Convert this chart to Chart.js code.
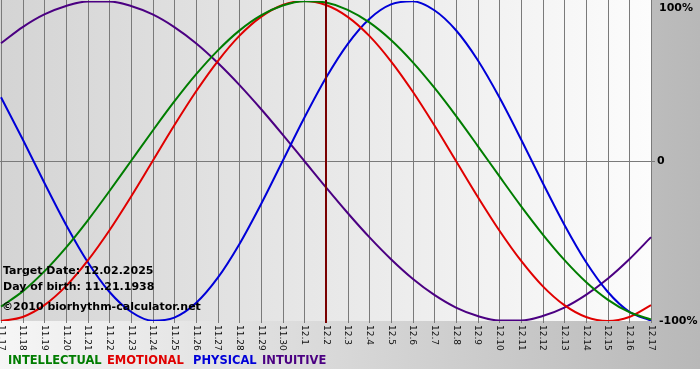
<!DOCTYPE html>
<html>
<head>
<meta charset="utf-8">
<script src="https://cdn.jsdelivr.net/npm/chart.js@4/dist/chart.umd.min.js"></script>
<style>
html,body{margin:0;padding:0;background:#fff;}
#wrap{width:700px;height:380px;position:relative;}
</style>
</head>
<body>
<div id="wrap"><canvas id="c" width="700" height="380"></canvas></div>
<script>
const labels = ['11.17','11.18','11.19','11.20','11.21','11.22','11.23','11.24','11.25','11.26','11.27','11.28','11.29','11.30',
  '12.1','12.2','12.3','12.4','12.5','12.6','12.7','12.8','12.9','12.10','12.11','12.12','12.13','12.14','12.15','12.16','12.17'];
const intellectual = [-0.910,-0.815,-0.690,-0.541,-0.372,-0.189,0.000,0.189,0.372,0.541,0.690,0.815,0.910,0.972,0.999,0.990,0.945,0.866,0.756,0.618,0.458,0.282,0.095,-0.095,-0.282,-0.458,-0.618,-0.756,-0.866,-0.945,-0.990];
const emotional = [-1.000,-0.975,-0.901,-0.782,-0.623,-0.434,-0.223,0.000,0.223,0.434,0.623,0.782,0.901,0.975,1.000,0.975,0.901,0.782,0.623,0.434,0.223,0.000,-0.223,-0.434,-0.623,-0.782,-0.901,-0.975,-1.000,-0.975,-0.901];
const physical = [0.398,0.136,-0.136,-0.398,-0.631,-0.817,-0.942,-0.998,-0.979,-0.888,-0.731,-0.520,-0.270,0.000,0.270,0.520,0.731,0.888,0.979,0.998,0.942,0.817,0.631,0.398,0.136,-0.136,-0.398,-0.631,-0.817,-0.942,-0.998];
const intuitive = [0.736,0.837,0.916,0.969,0.997,0.997,0.969,0.916,0.837,0.736,0.614,0.476,0.325,0.165,0.000,-0.165,-0.325,-0.476,-0.614,-0.736,-0.837,-0.916,-0.969,-0.997,-0.997,-0.969,-0.916,-0.837,-0.736,-0.614,-0.476];
const seriesNames = ['INTELLECTUAL','EMOTIONAL','PHYSICAL','INTUITIVE'];
const seriesColors = ['#007d00','#e00000','#0000d8','#4b0082'];
const yTickValues = [1, 0, -1];
const yTickLabels = ['100%', '0', '-100%'];
const targetLabel = '12.2';
const infoLines = ['Target Date: 12.02.2025', 'Day of birth: 11.21.1938', '\u00A92010 biorhythm-calculator.net'];

const legendX = [8, 107, 193, 262];

const drawPlugin = {
  id: 'bioDraw',
  beforeDraw(chart) {
    const ctx = chart.ctx;
    const a = chart.chartArea;
    const xs = chart.scales.x, ys = chart.scales.y;
    ctx.save();
    ctx.fillStyle = '#ffffff';
    ctx.fillRect(0, 0, 700, 380);
    let g = ctx.createLinearGradient(0, 0, 700, 0);
    g.addColorStop(0, '#f6f6f6');
    g.addColorStop(1, '#b8b8b8');
    ctx.fillStyle = g;
    ctx.fillRect(0, 0, 700, 369);
    g = ctx.createLinearGradient(a.left, 0, a.right, 0);
    g.addColorStop(0, '#d4d4d4');
    g.addColorStop(1, '#fcfcfc');
    ctx.fillStyle = g;
    ctx.fillRect(0, 0, a.right, a.bottom);
    ctx.strokeStyle = '#7a7a7a';
    ctx.lineWidth = 1;
    labels.forEach((l, i) => {
      const x = Math.round(xs.getPixelForValue(i)) + 0.5;
      ctx.beginPath();
      ctx.moveTo(x, 0);
      ctx.lineTo(x, a.bottom + 2);
      ctx.stroke();
    });
    const y0 = Math.round(ys.getPixelForValue(0)) + 0.5;
    ctx.beginPath();
    ctx.moveTo(0, y0);
    ctx.lineTo(a.right + 4, y0);
    ctx.stroke();
    ctx.restore();
  },
  afterDatasetsDraw(chart) {
    const ctx = chart.ctx;
    const a = chart.chartArea;
    const xs = chart.scales.x, ys = chart.scales.y;
    ctx.save();
    const tx = xs.getPixelForValue(labels.indexOf(targetLabel));
    ctx.strokeStyle = '#7a0000';
    ctx.lineWidth = 2;
    ctx.beginPath();
    ctx.moveTo(tx, 0);
    ctx.lineTo(tx, a.bottom + 2);
    ctx.stroke();
    ctx.fillStyle = '#000';
    ctx.font = 'bold 11px "DejaVu Sans"';
    ctx.textAlign = 'left';
    ctx.textBaseline = 'middle';
    ctx.fillText(infoLines[0], 3, 271);
    ctx.fillText(infoLines[1], 3, 287);
    ctx.fillText(infoLines[2], 2, 307);
    ctx.font = '9px "DejaVu Sans"';
    ctx.fillStyle = '#111';
    labels.forEach((l, i) => {
      const x = xs.getPixelForValue(i);
      ctx.save();
      ctx.translate(x, a.bottom + 4);
      ctx.rotate(Math.PI / 2);
      ctx.textAlign = 'left';
      ctx.textBaseline = 'middle';
      ctx.fillText(l, 0, 0);
      ctx.restore();
    });
    ctx.font = 'bold 11px "DejaVu Sans"';
    ctx.fillStyle = '#000';
    yTickValues.forEach((v, i) => {
      let y = ys.getPixelForValue(v);
      if (v === 1) y += 7;
      ctx.fillText(yTickLabels[i], v === 0 ? 657 : 659, y);
    });
    ctx.font = 'bold 11.5px "DejaVu Sans"';
    seriesNames.forEach((n, i) => {
      ctx.fillStyle = seriesColors[i];
      ctx.fillText(n, legendX[i], 361);
    });
    ctx.restore();
  }
};

new Chart(document.getElementById('c'), {
  type: 'line',
  data: {
    labels: labels,
    datasets: [
      { label: seriesNames[0], data: intellectual, borderColor: seriesColors[0] },
      { label: seriesNames[1], data: emotional, borderColor: seriesColors[1] },
      { label: seriesNames[2], data: physical, borderColor: seriesColors[2] },
      { label: seriesNames[3], data: intuitive, borderColor: seriesColors[3] }
    ]
  },
  options: {
    responsive: false,
    animation: false,
    devicePixelRatio: 1,
    layout: { padding: { left: 1, top: 1, right: 49, bottom: 59 } },
    elements: {
      point: { radius: 0, hoverRadius: 0 },
      line: { borderWidth: 2, cubicInterpolationMode: 'monotone', fill: false }
    },
    plugins: { legend: { display: false }, tooltip: { enabled: false } },
    scales: {
      x: { display: false },
      y: { display: false, min: -1, max: 1 }
    }
  },
  plugins: [drawPlugin]
});
</script>
</body>
</html>
